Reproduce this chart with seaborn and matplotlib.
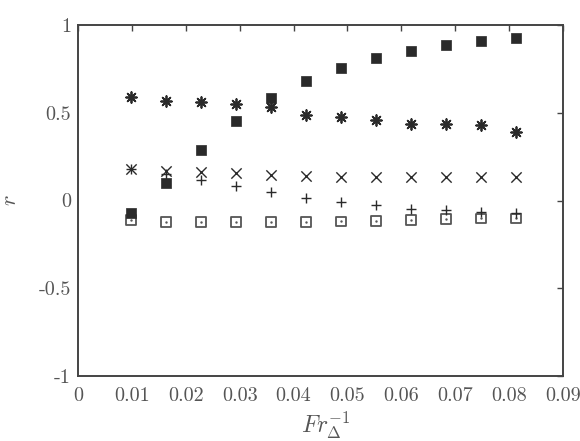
import numpy as np
import pandas as pd
import matplotlib
matplotlib.use("Agg")
import matplotlib.pyplot as plt
import seaborn as sns

# ---- data ----
fr_inv = [0.0098, 0.0163, 0.0228, 0.0293, 0.0358, 0.0423,
          0.0488, 0.0553, 0.0618, 0.0683, 0.0748, 0.0813]
r_filled_sq = [-0.073, 0.101, 0.288, 0.453, 0.584, 0.683,
               0.757, 0.812, 0.854, 0.884, 0.907, 0.924]
r_asterisk = [0.588, 0.569, 0.563, 0.550, 0.531, 0.489,
              0.476, 0.457, 0.438, 0.434, 0.430, 0.390]
r_cross = [0.178, 0.170, 0.164, 0.155, 0.145, 0.140,
           0.136, 0.134, 0.133, 0.132, 0.132, 0.132]
r_plus = [0.180, 0.150, 0.117, 0.085, 0.047, 0.016,
          -0.010, -0.028, -0.047, -0.054, -0.064, -0.073]
r_open_sq = [-0.111, -0.121, -0.124, -0.124, -0.123, -0.122,
             -0.119, -0.118, -0.111, -0.105, -0.102, -0.102]

xticks = [0, 0.01, 0.02, 0.03, 0.04, 0.05, 0.06, 0.07, 0.08, 0.09]
xticklabels = ["0", "0.01", "0.02", "0.03", "0.04", "0.05", "0.06", "0.07", "0.08", "0.09"]
yticks = [-1, -0.5, 0, 0.5, 1]
yticklabels = ["-1", "-0.5", "0", "0.5", "1"]

sns.set_style("white")
plt.rcParams["font.family"] = ["cmr10", "DejaVu Serif"]
plt.rcParams["mathtext.fontset"] = "cm"
plt.rcParams["axes.unicode_minus"] = False

fig = plt.figure(figsize=(5.8, 4.41), dpi=100)
ax = fig.add_axes([78 / 580, 1 - 376 / 441, (563 - 78) / 580, (376 - 25) / 441])

df = pd.DataFrame({"x": fr_inv, "fs": r_filled_sq, "ast": r_asterisk,
                   "cr": r_cross, "pl": r_plus, "os": r_open_sq})

dark = "#2a2a2a"
sns.scatterplot(data=df, x="x", y="os", ax=ax, marker="s", s=48,
                facecolor="none", edgecolor="#555555", linewidth=1.3, zorder=3)
sns.scatterplot(data=df, x="x", y="os", ax=ax, marker="o", s=3,
                color="#555555", linewidth=0, zorder=3)
sns.scatterplot(data=df, x="x", y="cr", ax=ax, marker="x", s=55,
                color=dark, linewidth=1.0, zorder=3)
sns.scatterplot(data=df, x="x", y="pl", ax=ax, marker="+", s=55,
                color=dark, linewidth=1.0, zorder=3)
sns.scatterplot(data=df, x="x", y="ast", ax=ax, marker=(8, 2, 0), s=60,
                color=dark, linewidth=1.3, zorder=3)
sns.scatterplot(data=df, x="x", y="fs", ax=ax, marker="s", s=45,
                color=dark, edgecolor=dark, linewidth=0.5, zorder=4)

ax.set_xlim(0, 0.09)
ax.set_ylim(-1, 1)
ax.set_xticks(xticks)
ax.set_xticklabels(xticklabels)
ax.set_yticks(yticks)
ax.set_yticklabels(yticklabels)
ax.tick_params(direction="in", length=4, width=1.0, color="#444444",
               top=True, right=True, labelsize=14.5, labelcolor="#555555")
ax.tick_params(axis="x", pad=8)
ax.tick_params(axis="y", pad=5)
for sp in ax.spines.values():
    sp.set_visible(True)
    sp.set_color("#444444")
    sp.set_linewidth(1.4)

ax.set_xlabel(r"$Fr_{\Delta}^{-1}$", fontsize=17, color="#555555")
ax.xaxis.set_label_coords(0.511, -0.095, transform=ax.transAxes)
ax.xaxis.label.set_verticalalignment("top")
ax.set_ylabel(r"$r$", fontsize=16, color="#555555", rotation=90)
ax.yaxis.set_label_coords(-0.12, 0.5, transform=ax.transAxes)

fig.savefig("out.png", dpi=100)
